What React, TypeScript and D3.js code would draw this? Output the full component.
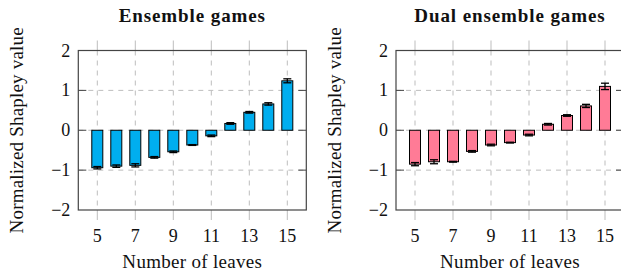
import React from "react";
import * as d3 from "d3";

const leaves = [5, 6, 7, 8, 9, 10, 11, 12, 13, 14, 15];
const ensembleValues = [-0.94, -0.9, -0.88, -0.68, -0.54, -0.37, -0.14, 0.17, 0.45, 0.66, 1.24];
const ensembleErrors = [0.03, 0.03, 0.04, 0.02, 0.02, 0.01, 0.02, 0.02, 0.02, 0.03, 0.05];
const dualValues = [-0.85, -0.79, -0.79, -0.53, -0.37, -0.31, -0.12, 0.15, 0.37, 0.61, 1.1];
const dualErrors = [0.04, 0.05, 0.01, 0.02, 0.02, 0.01, 0.02, 0.02, 0.02, 0.04, 0.08];
const xTicks = [5, 7, 9, 11, 13, 15];
const yTicks = [-2, -1, 0, 1, 2];
const titles = ["Ensemble games", "Dual ensemble games"];
const xLabel = "Number of leaves";
const yLabel = "Normalized Shapley value";

const FONT = "'Liberation Serif', 'Times New Roman', serif";
const GRID = "#bdbdbd";
const FRAME = "#444";

function Panel({ x0, x1, values, errors, color, title }: any) {
  const top = 50.5;
  const bottom = 210;
  const x = d3.scaleLinear().domain([4, 16]).range([x0, x1]);
  const y = d3.scaleLinear().domain([-2, 2]).range([bottom, top]);
  const barW = 11;
  const cx = (x0 + x1) / 2;
  const fmt = (v: number) => (v < 0 ? "\u2212" + Math.abs(v) : String(v));
  return (
    <g>
      {xTicks.map((t) => (
        <g key={"vx" + t}>
          <line x1={x(t)} x2={x(t)} y1={top} y2={bottom} stroke={GRID} strokeWidth={1} strokeDasharray="5 5" />
          <line x1={x(t)} x2={x(t)} y1={top - 10} y2={top} stroke={GRID} strokeWidth={1} />
          <line x1={x(t)} x2={x(t)} y1={bottom} y2={bottom + 10} stroke={GRID} strokeWidth={1} />
        </g>
      ))}
      {yTicks.filter((t) => t > -2 && t < 2).map((t) => (
        <g key={"hy" + t}>
          <line x1={x0} x2={x1} y1={y(t)} y2={y(t)} stroke={GRID} strokeWidth={1} strokeDasharray="5 5" />
          <line x1={x0} x2={x0 + 8} y1={y(t)} y2={y(t)} stroke={FRAME} strokeWidth={1} />
          <line x1={x1 - 8} x2={x1} y1={y(t)} y2={y(t)} stroke={FRAME} strokeWidth={1} />
        </g>
      ))}
      {leaves.map((l, i) => {
        const v = values[i];
        const y0 = y(0);
        const yv = y(v);
        return (
          <rect
            key={"b" + l}
            x={x(l) - barW / 2}
            y={Math.min(y0, yv)}
            width={barW}
            height={Math.abs(yv - y0)}
            fill={color}
            stroke="#000"
            strokeWidth={1}
          />
        );
      })}
      {leaves.map((l, i) => {
        const v = values[i];
        const e = errors[i];
        const xc = x(l);
        const ya = y(v - e);
        const yb = y(v + e);
        return (
          <g key={"e" + l} stroke="#000" strokeWidth={1.3}>
            <line x1={xc} x2={xc} y1={ya} y2={yb} />
            <line x1={xc - 4} x2={xc + 4} y1={ya} y2={ya} />
            <line x1={xc - 4} x2={xc + 4} y1={yb} y2={yb} />
          </g>
        );
      })}
      <rect x={x0} y={top} width={x1 - x0} height={bottom - top} fill="none" stroke={FRAME} strokeWidth={1.2} />
      {xTicks.map((t) => (
        <text key={"xt" + t} x={x(t)} y={242} textAnchor="middle" fontFamily={FONT} fontSize={18} fill="#111">
          {t}
        </text>
      ))}
      {yTicks.map((t) => (
        <text key={"yt" + t} x={x0 - 8} y={y(t) + 6} textAnchor="end" fontFamily={FONT} fontSize={18} fill="#111">
          {fmt(t)}
        </text>
      ))}
      <text x={cx} y={21.5} textAnchor="middle" fontFamily={FONT} fontSize={19} fontWeight="bold" letterSpacing={0.9} fill="#111">
        {title}
      </text>
      <text x={cx} y={268} textAnchor="middle" fontFamily={FONT} fontSize={19} letterSpacing={0.3} fill="#111">
        {xLabel}
      </text>
      <text
        transform={`translate(${x0 - 55},${(top + bottom) / 2}) rotate(-90)`}
        textAnchor="middle"
        fontFamily={FONT}
        fontSize={19}
        letterSpacing={0.2}
        fill="#111"
      >
        {yLabel}
      </text>
    </g>
  );
}

export default function App() {
  return (
    <svg
      width={621}
      height={273}
      viewBox="0 0 621 273"
      style={{ position: "absolute", left: 0, top: 0, background: "#fff" }}
    >
      <rect x={0} y={0} width={621} height={273} fill="#fff" />
      <Panel x0={78.3} x1={306.3} values={ensembleValues} errors={ensembleErrors} color="#00AEEF" title={titles[0]} />
      <Panel x0={396} x1={624} values={dualValues} errors={dualErrors} color="#FF7B96" title={titles[1]} />
    </svg>
  );
}
